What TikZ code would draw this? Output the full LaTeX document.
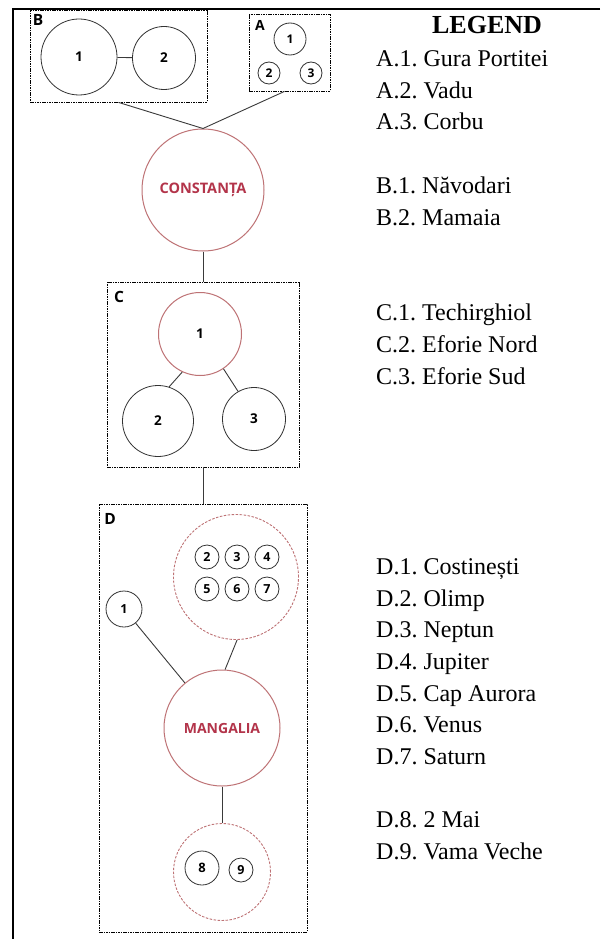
\documentclass[tikz,border=0pt]{standalone}
\usepackage{fontspec}
\setmainfont{Liberation Serif}
\newfontfamily\dsans{Open Sans}
\definecolor{redline}{HTML}{BE7275}
\definecolor{redtext}{HTML}{B3344A}
\definecolor{conn}{HTML}{3A3A3A}
\frenchspacing
\begin{document}
\begin{tikzpicture}[x=1pt,y=-1pt,
  grpbox/.style={draw=black, rectangle, dash pattern=on 1.6pt off 0.8pt, line width=0.8pt, inner sep=0pt},
  boxlabel/.style={font=\dsans\bfseries\fontsize{15.5}{15.5}\selectfont, inner sep=0pt},
  circ/.style={circle, draw=black!80, line width=0.8pt, inner sep=0pt, font=\dsans\bfseries\fontsize{13.5}{13.5}\selectfont},
  smallcirc/.style={circ, font=\dsans\bfseries\fontsize{12.5}{12.5}\selectfont},
  redc/.style={circle, draw=redline, line width=1pt, inner sep=0pt, text=redtext, font=\dsans\bfseries\fontsize{14.5}{14.5}\selectfont},
  redcn/.style={redc, text=black, font=\dsans\bfseries\fontsize{13.5}{13.5}\selectfont},
  dred/.style={circle, draw=redline, line width=0.9pt, dash pattern=on 2.5pt off 1.5pt, inner sep=0pt},
  link/.style={draw=conn, line width=0.9pt},
  legtitle/.style={font=\bfseries\fontsize{26}{28}\selectfont, inner sep=0pt},
  leg/.style={font=\fontsize{24}{28}\selectfont, inner sep=0pt, anchor=base west}
]
\useasboundingbox (0,0) rectangle (600,939);
\fill[white] (0,0) rectangle (600,939);

% table border
\coordinate (tl) at (12.5,9);
\coordinate (tr) at (600,9);
\coordinate (bl) at (12.5,939);
\draw[line width=2pt] (tr) -- (tl) -- (bl);

% group B
\node[grpbox, minimum width=177pt, minimum height=92pt] (B) at (118.5,56) {};
\node[boxlabel] (Bl) at (38,20) {B};
\node[circ, minimum size=76pt] (b1) at (79,57) {1};
\node[circ, minimum size=63pt] (b2) at (164,58) {2};
\draw[link] (b1) -- (b2);

% group A
\node[grpbox, minimum width=81pt, minimum height=77pt] (A) at (289.5,52.5) {};
\node[boxlabel, font=\dsans\bfseries\fontsize{14}{14}\selectfont] (Al) at (260,25) {A};
\node[smallcirc, font=\dsans\bfseries\fontsize{12}{12}\selectfont, minimum size=32pt] (a1) at (290,39) {1};
\node[smallcirc, font=\dsans\bfseries\fontsize{12}{12}\selectfont, minimum size=22pt] (a2) at (269,73) {2};
\node[smallcirc, font=\dsans\bfseries\fontsize{12}{12}\selectfont, minimum size=22pt] (a3) at (311,73) {3};
\coordinate (Aout) at ([xshift=-5pt]A.south);

% Constanta
\node[redc, minimum size=122pt] (cons) at (203,190) {CONSTANȚA};
\draw[link] (B.south) -- (cons.north);
\draw[link] (Aout) -- (cons.north);

% group C
\node[grpbox, minimum width=192pt, minimum height=185pt] (C) at (203,374.5) {};
\node[boxlabel] (Cl) at (119,297) {C};
\node[redcn, minimum size=83pt] (c1) at (200,334) {1};
\node[circ, minimum size=71pt] (c2) at (158,421) {2};
\node[circ, minimum size=63pt] (c3) at (254,419) {3};
\draw[link] (cons.south) -- (C.north);
\draw[link] (c1.245) -- (c2.72);
\draw[link] (c1.304) -- (c3.120);

% group D
\node[grpbox, minimum width=208pt, minimum height=428pt] (D) at (203,718) {};
\node[boxlabel] (Dl) at (110,519) {D};
\draw[link] (C.south) -- (D.north);
\node[dred, minimum size=125pt] (grp) at (236,577) {};
\node[smallcirc, minimum size=24pt] (d2) at (207,557) {2};
\node[smallcirc, minimum size=24pt] (d3) at (237,557) {3};
\node[smallcirc, minimum size=24pt] (d4) at (267,557) {4};
\node[smallcirc, minimum size=24pt] (d5) at (207,589) {5};
\node[smallcirc, minimum size=24pt] (d6) at (237,589) {6};
\node[smallcirc, minimum size=24pt] (d7) at (267,589) {7};
\node[smallcirc, minimum size=36pt] (d1) at (124,609) {1};
\node[redc, font=\dsans\bfseries\fontsize{14}{14}\selectfont, minimum size=116pt] (mang) at (222,728) {MANGALIA};
\node[dred, minimum size=97pt] (bot) at (222,872) {};
\node[smallcirc, font=\dsans\bfseries\fontsize{13}{13}\selectfont, minimum size=34pt] (d8) at (202,868) {8};
\node[smallcirc, minimum size=24pt] (d9) at (241,870) {9};
\draw[link] (d1) -- (mang);
\draw[link] (grp.-89) -- (mang.87);
\draw[link] (mang.south) -- (bot.north);

% legend
\node[legtitle] (lt) at (487,25) {LEGEND};
\node[leg] (la1) at (376,67) {A.1. Gura Portitei};
\node[leg] (la2) at (376,98.5) {A.2. Vadu};
\node[leg] (la3) at (376,130) {A.3. Corbu};
\node[leg] (lb1) at (376,193.5) {B.1. Năvodari};
\node[leg] (lb2) at (376,225) {B.2. Mamaia};
\node[leg] (lc1) at (376,320.5) {C.1. Techirghiol};
\node[leg] (lc2) at (376,352) {C.2. Eforie Nord};
\node[leg] (lc3) at (376,384) {C.3. Eforie Sud};
\node[leg] (ld1) at (376,574) {D.1. Costinești};
\node[leg] (ld2) at (376,606) {D.2. Olimp};
\node[leg] (ld3) at (376,637.5) {D.3. Neptun};
\node[leg] (ld4) at (376,669) {D.4. Jupiter};
\node[leg] (ld5) at (376,701) {D.5. Cap Aurora};
\node[leg] (ld6) at (376,732.5) {D.6. Venus};
\node[leg] (ld7) at (376,764) {D.7. Saturn};
\node[leg] (ld8) at (376,827.5) {D.8. 2 Mai};
\node[leg] (ld9) at (376,859) {D.9. Vama Veche};
\end{tikzpicture}
\end{document}
